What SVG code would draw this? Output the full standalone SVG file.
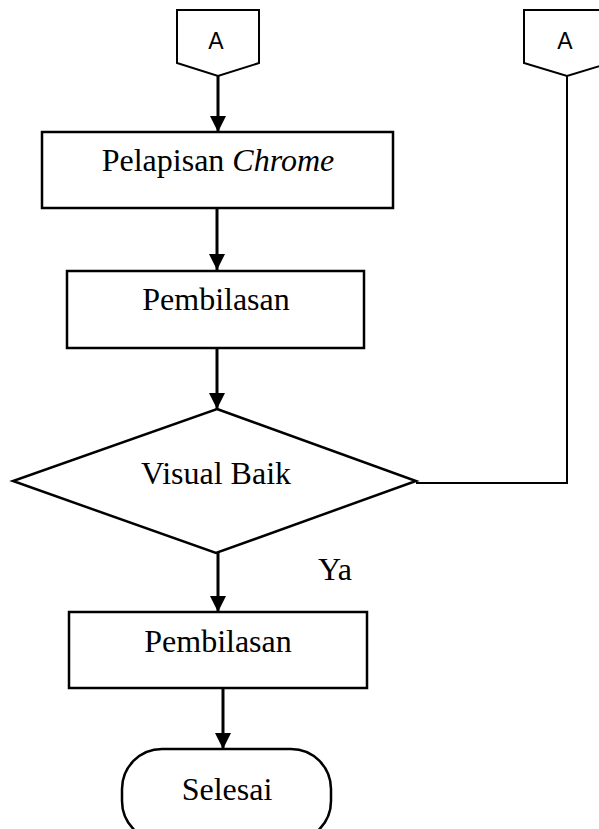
<svg xmlns="http://www.w3.org/2000/svg" width="599" height="829" viewBox="0 0 599 829">
  <style>
    .shape { fill: #fff; stroke: #000; stroke-width: 2.5; }
    .conn { fill: #fff; stroke: #000; stroke-width: 2; }
    .flow { fill: none; stroke: #000; stroke-width: 3; }
    .link { fill: none; stroke: #000; stroke-width: 2; }
    .label { font-family: "Liberation Serif", "Times New Roman", serif; font-size: 32px; fill: #000; text-anchor: middle; }
    .tag { font-family: "Liberation Sans", Arial, sans-serif; font-size: 23px; fill: #000; text-anchor: middle; }
  </style>
  <defs>
    <marker id="arrow" markerUnits="userSpaceOnUse" markerWidth="16" markerHeight="16" viewBox="0 0 16 16" refX="16" refY="8" orient="auto">
      <path d="M0,0 L16,8 L0,16 Z" fill="#000"/>
    </marker>
  </defs>

  <!-- off-page connectors -->
  <g id="connector-a-left">
    <path class="conn" d="M177,10 H259 V63 L218,76 L177,63 Z"/>
    <text class="tag" x="216" y="49">A</text>
  </g>
  <g id="connector-a-right">
    <path class="conn" d="M524,10 H610 V63 L567,76 L524,63 Z"/>
    <text class="tag" x="565" y="49">A</text>
  </g>

  <!-- process steps -->
  <g id="pelapisan-chrome">
    <rect class="shape" x="42" y="132" width="351" height="76"/>
    <text class="label" x="218" y="171">Pelapisan <tspan font-style="italic">Chrome</tspan></text>
  </g>
  <g id="pembilasan-1">
    <rect class="shape" x="67" y="271" width="297" height="77"/>
    <text class="label" x="216" y="310">Pembilasan</text>
  </g>
  <g id="visual-baik">
    <path class="shape" d="M217,409 L416,481 L216,553 L13,481 Z"/>
    <text class="label" x="216" y="484">Visual Baik</text>
  </g>
  <g id="pembilasan-2">
    <rect class="shape" x="69" y="612" width="298" height="76"/>
    <text class="label" x="218" y="652">Pembilasan</text>
  </g>
  <g id="selesai">
    <rect class="shape" x="122" y="749" width="209" height="92" rx="40" ry="40"/>
    <text class="label" x="227" y="800">Selesai</text>
  </g>

  <!-- decision label -->
  <text class="label" x="335" y="580">Ya</text>

  <!-- connectors -->
  <g id="connectors">
    <line class="flow" x1="218" y1="76" x2="218" y2="132" marker-end="url(#arrow)"/>
    <line class="flow" x1="217" y1="208" x2="217" y2="270" marker-end="url(#arrow)"/>
    <line class="flow" x1="217" y1="348" x2="217" y2="409" marker-end="url(#arrow)"/>
    <line class="flow" x1="218" y1="553" x2="218" y2="612" marker-end="url(#arrow)"/>
    <line class="flow" x1="223" y1="688" x2="223" y2="749" marker-end="url(#arrow)"/>
    <polyline class="link" points="416,483 567,483 567,76"/>
  </g>
</svg>
